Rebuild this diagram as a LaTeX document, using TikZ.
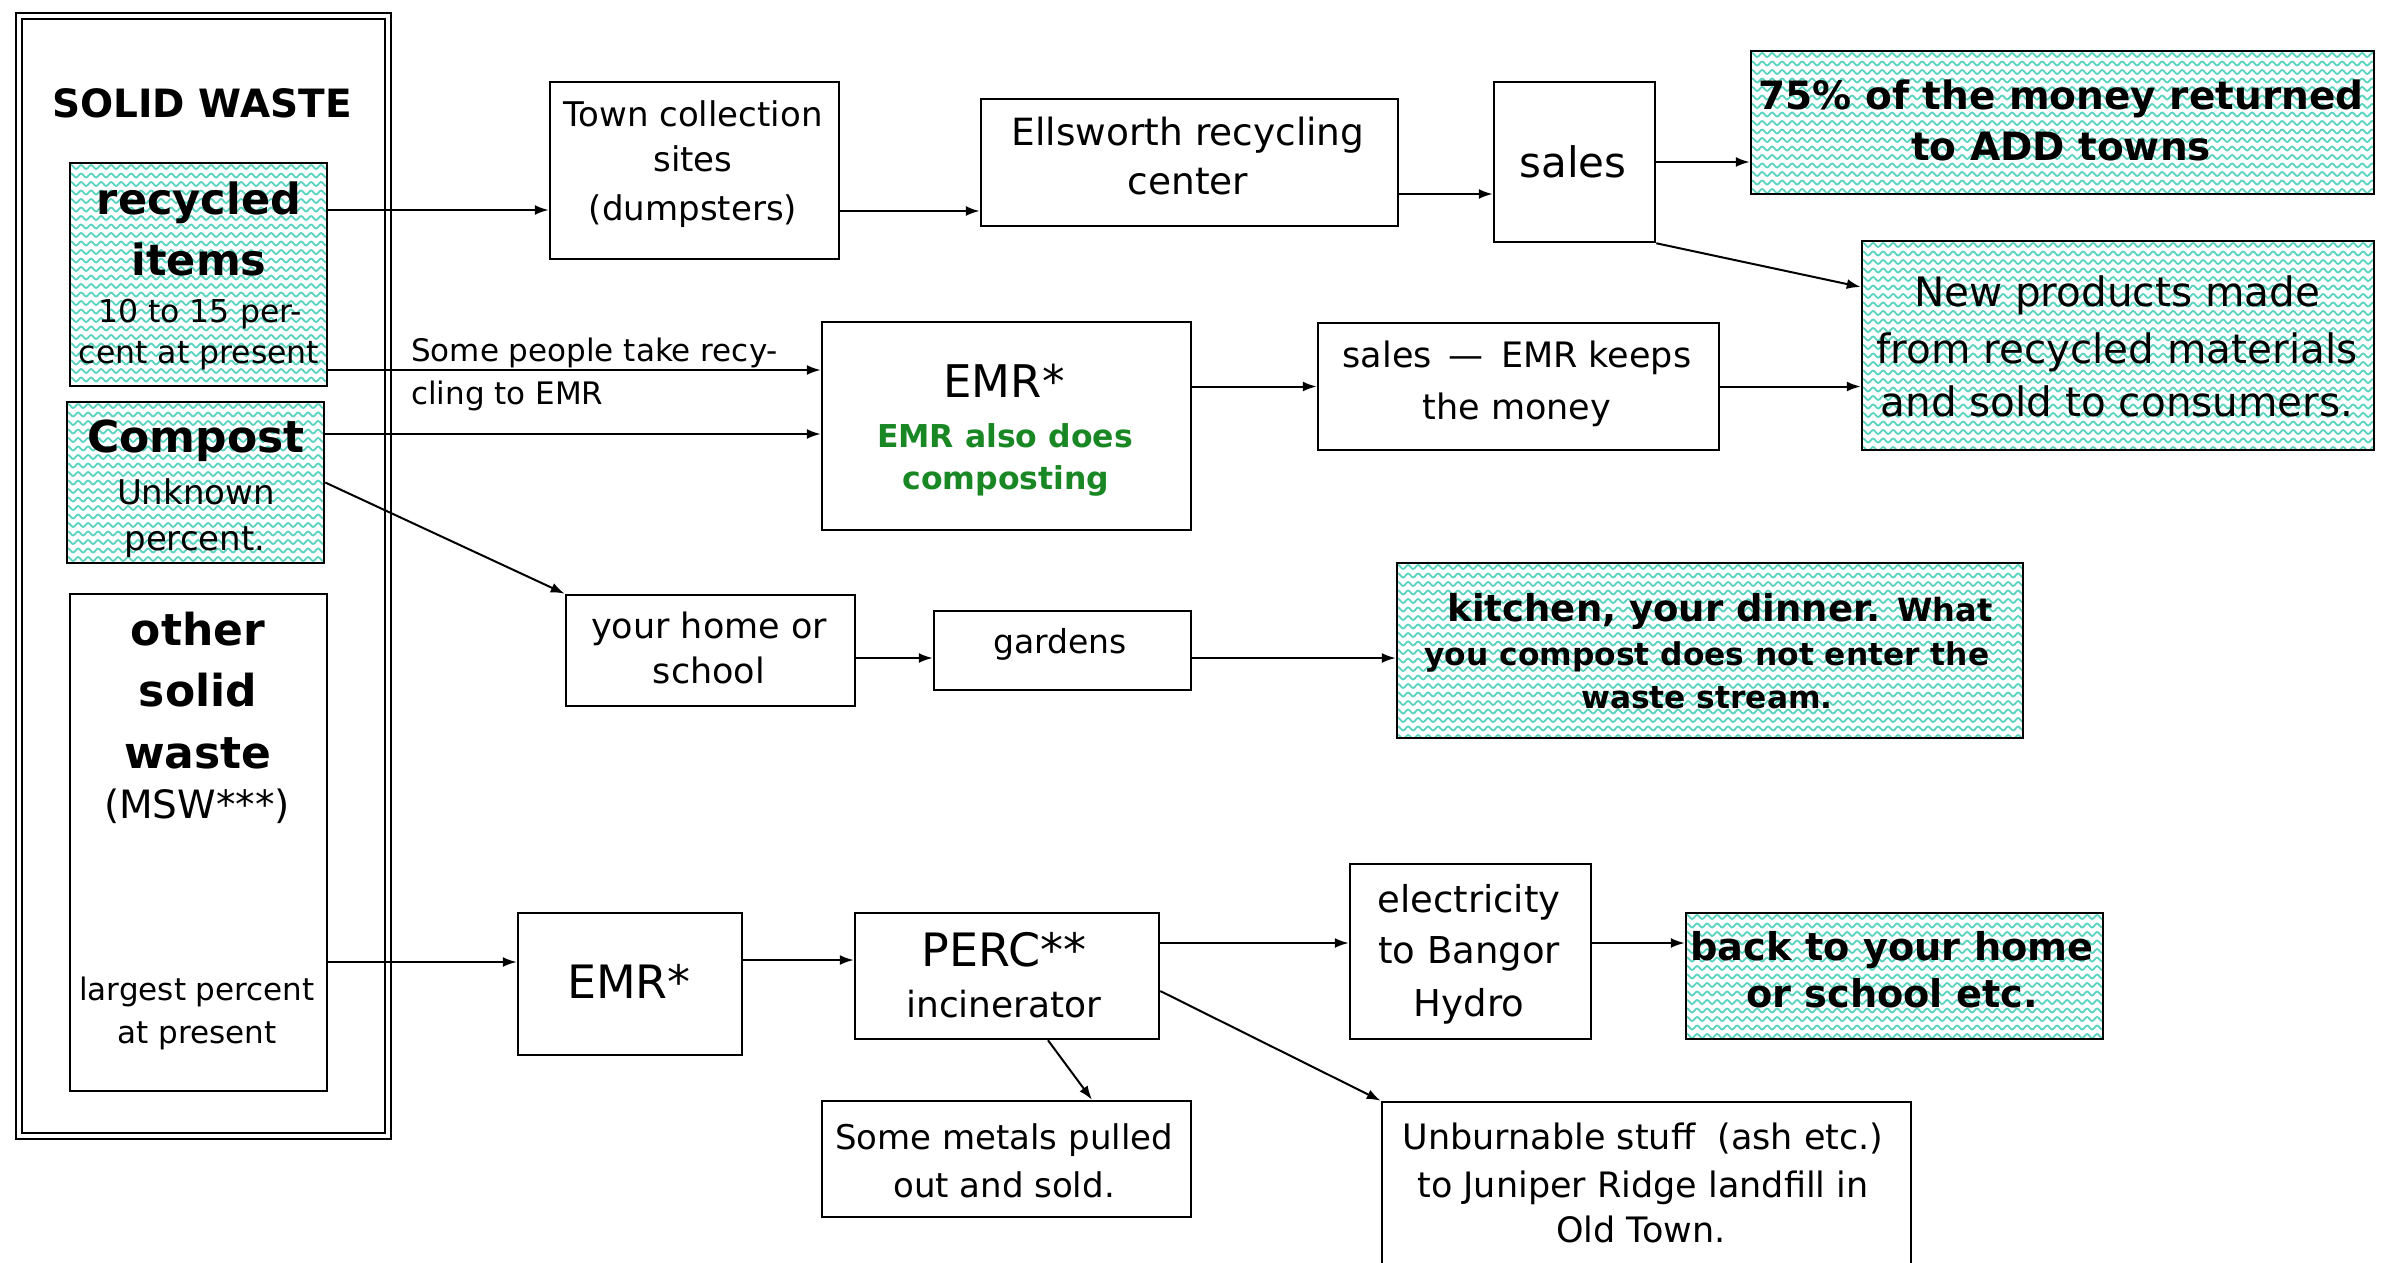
\documentclass[tikz,border=0pt]{standalone}
\usepackage{fontspec}
\setmainfont{DejaVu Sans}
\usetikzlibrary{arrows.meta,decorations.pathmorphing}
\definecolor{wavec}{RGB}{90,212,192}
\definecolor{emrgreen}{RGB}{25,135,35}
\newcommand\fs[1]{\fontsize{#1pt}{#1pt}\selectfont}
\newcommand\fb[1]{\fontsize{#1pt}{#1pt}\selectfont\bfseries}
\newcommand\boxat[6][]{\node[box,#1,minimum width={#5-#3},minimum height={#6-#4}] (#2) at ({(#3+#5)/2},{(#4+#6)/2}) {};}
\newcommand\txt[6][]{\node[tline,font=\fs{#5},#1] (#2) at (#3,{#4+0.31*#5}) {#6};}
\begin{document}
\begin{tikzpicture}[x=1pt,y=-1pt,
  box/.style={draw,line width=2.5pt,inner sep=0pt,fill=white},
  wavy/.style={wavec,line width=1.8pt,decorate,decoration={snake,amplitude=2pt,segment length=10pt}},
  hatched/.style={path picture={\foreach \k in {0,...,30}{\draw[wavy] ([xshift=-12pt,yshift={-4-\k*8.5}]path picture bounding box.north west) -- ([xshift=12pt,yshift={-4-\k*8.5}]path picture bounding box.north east);}}},
  tline/.style={anchor=mid,inner sep=0pt},
  arr/.style={line width=2pt,-{Latex[length=14pt,width=10pt]}}]
\useasboundingbox (0,0) rectangle (2392,1262);
\fill[white] (0,0) rectangle (2392,1262);
\clip (0,0) rectangle (2392,1262);

% outer container
\node[draw,double,double distance=4pt,line width=2pt,inner sep=0pt,minimum width=369,minimum height=1119.5] (outer) at (203.5,576) {};

% boxes
\boxat[hatched]{rec}{70}{163}{327}{386}
\boxat[hatched]{comp}{67}{402}{324}{563}
\boxat{other}{70}{594}{327}{1091}
\boxat{town}{550}{82}{839}{259}
\boxat{ells}{981}{99}{1398}{226}
\boxat{sales}{1494}{82}{1655}{242}
\boxat[hatched]{pct}{1751}{51}{2374}{194}
\boxat[hatched]{newp}{1862}{241}{2374}{450}
\boxat{emrone}{822}{322}{1191}{530}
\boxat{salestwo}{1318}{323}{1719}{450}
\boxat{home}{566}{595}{855}{706}
\boxat{gard}{934}{611}{1191}{690}
\boxat[hatched]{kitch}{1397}{563}{2023}{738}
\boxat{emrtwo}{518}{913}{742}{1055}
\boxat{perc}{855}{913}{1159}{1039}
\boxat{elec}{1350}{864}{1591}{1039}
\boxat[hatched]{back}{1686}{913}{2103}{1039}
\boxat{metals}{822}{1101}{1191}{1217}
\boxat{unb}{1382}{1102}{1911}{1310}

% texts
\txt[font=\fb{39}]{tsw}{202}{103}{39}{SOLID WASTE}
\txt[font=\fb{43}]{trec1}{199}{198}{43}{recycled}
\txt[font=\fb{43}]{trec2}{199}{259}{43}{items}
\txt{trec3}{200}{310}{31.5}{10 to 15 per-}
\txt{trec4}{199}{351}{31.5}{cent at present}
\txt[font=\fb{44}]{tcomp1}{196}{436}{44}{Compost}
\txt{tcomp2}{196}{491}{34}{Unknown}
\txt{tcomp3}{195}{537}{34}{percent.}
\txt[font=\fb{44}]{toth1}{198}{629}{44}{other}
\txt[font=\fb{44}]{toth2}{198}{690}{44}{solid}
\txt[font=\fb{44}]{toth3}{198}{752}{44}{waste}
\txt{toth4}{197}{804}{39}{(MSW***)}
\txt{toth5}{197}{988}{31}{largest percent}
\txt{toth6}{197}{1031}{31}{at present}
\txt[anchor=mid west]{tsome1}{411}{349}{31}{Some people take recy-}
\txt[anchor=mid west]{tsome2}{411}{392}{31}{cling to EMR}
\txt{ttown1}{693}{113}{34}{Town collection}
\txt{ttown2}{693}{158}{34}{sites}
\txt{ttown3}{693}{207}{34}{(dumpsters)}
\txt{tells1}{1188}{131}{37.5}{Ellsworth recycling}
\txt{tells2}{1188}{180}{37.5}{center}
\txt{tsales}{1573}{162}{42}{sales}
\txt[font=\fb{39}]{tpct1}{2061}{95}{39}{75\% of the money returned}
\txt[font=\fb{39}]{tpct2}{2061}{146}{39}{to ADD towns}
\txt{tnew1}{2117}{291}{40.5}{New products made}
\txt{tnew2}{2117}{348}{40.5}{from recycled materials}
\txt{tnew3}{2117}{401}{40.5}{and sold to consumers.}
\txt{temr1}{1004}{381}{45}{EMR*}
\txt[font=\fb{31.5},text=emrgreen]{temr2}{1005}{435}{31.5}{EMR also does}
\txt[font=\fb{31.5},text=emrgreen]{temr3}{1006}{477}{31.5}{composting}
\txt{tsal1}{1517}{354}{35}{sales\hspace{6pt} --- \hspace{6pt}EMR keeps}
\txt{tsal2}{1517}{406}{35}{the money}
\txt{thome1}{709}{625}{35}{your home or}
\txt{thome2}{709}{670}{35}{school}
\txt{tgard}{1060}{641}{33}{gardens}
\txt[font=\fb{37}]{tkit1}{1720}{607}{37}{kitchen, your dinner. {\fb{32}What}}
\txt[font=\fb{31.3}]{tkit2}{1707}{653}{31.3}{you compost does not enter the}
\txt[font=\fb{31.3}]{tkit3}{1707}{696}{31.3}{waste stream.}
\txt{temrtwo}{629}{981}{46}{EMR*}
\txt{tperc1}{1004}{949}{46}{PERC**}
\txt{tperc2}{1004}{1004}{36}{incinerator}
\txt{telec1}{1469}{898}{37}{electricity}
\txt{telec2}{1469}{949}{37}{to Bangor}
\txt{telec3}{1469}{1002}{37}{Hydro}
\txt[font=\fb{38.3}]{tback1}{1892}{946}{38.3}{back to your home}
\txt[font=\fb{38.3}]{tback2}{1892}{993}{38.3}{or school etc.}
\txt{tmet1}{1004}{1136}{34}{Some metals pulled}
\txt{tmet2}{1004}{1184}{34}{out and sold.}
\txt{tunb1}{1643}{1136}{35}{Unburnable stuff~ (ash etc.)}
\txt{tunb2}{1643}{1184}{35}{to Juniper Ridge landfill in}
\txt{tunb3}{1641}{1229}{35}{Old Town.}

% connectors
\draw[arr] (rec.east |- 0,210) -- (town.west |- 0,210);
\draw[arr] (town.east |- 0,211) -- (ells.west |- 0,211);
\draw[arr] (ells.east |- 0,194) -- (sales.west |- 0,194);
\draw[arr] (sales.east) -- (sales.east -| pct.west);
\draw[arr] (sales.south east) -- (newp.west |- 0,287);
\draw[arr] (rec.east |- 0,370) -- (emrone.west |- 0,370);
\draw[arr] (comp.east |- 0,434) -- (emrone.west |- 0,434);
\draw[arr] (emrone.east |- salestwo.west) -- (salestwo.west);
\draw[arr] (salestwo.east) -- (salestwo.east -| newp.west);
\draw[arr] (comp.east) -- (home.north west);
\draw[arr] (home.east |- 0,658) -- (gard.west |- 0,658);
\draw[arr] (gard.east |- 0,658) -- (kitch.west |- 0,658);
\draw[arr] (other.east |- 0,962) -- (emrtwo.west |- 0,962);
\draw[arr] (emrtwo.east |- 0,960) -- (perc.west |- 0,960);
\draw[arr] (perc.east |- 0,943) -- (elec.west |- 0,943);
\draw[arr] (elec.east |- 0,943) -- (back.west |- 0,943);
\draw[arr] (1048,0 |- perc.south) -- (1092,0 |- metals.north);
\draw[arr] (perc.east |- 0,991) -- (unb.north west);
\end{tikzpicture}
\end{document}
